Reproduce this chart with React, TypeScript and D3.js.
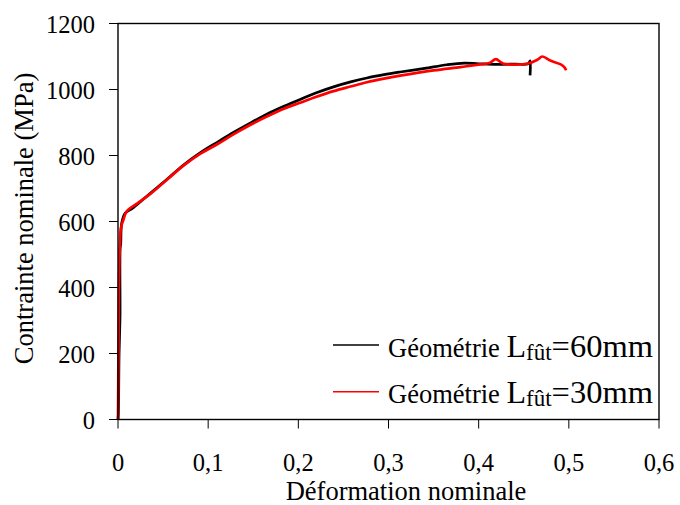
import React from "react";
import * as d3 from "d3";

// Tensile curves: nominal strain vs nominal stress (MPa)
const strain60 = [0, 0.0004, 0.0012, 0.0022, 0.0023, 0.0024, 0.003, 0.0041, 0.0078, 0.017, 0.0355, 0.054, 0.073, 0.091, 0.11, 0.128, 0.147, 0.165, 0.184, 0.202, 0.22, 0.239, 0.258, 0.276, 0.295, 0.313, 0.34, 0.365, 0.384, 0.4, 0.42, 0.44, 0.455, 0.457, 0.457];
const stress60 = [0, 15, 200, 305, 340, 520, 532, 595, 625, 642, 685, 727, 772, 808, 840, 870, 899, 925, 949, 970, 990, 1008, 1023, 1035, 1045, 1053, 1064, 1075, 1080, 1078, 1076, 1077, 1078, 1087, 1043];

const strain30 = [0, 0.0005, 0.001, 0.0015, 0.002, 0.003, 0.0041, 0.006, 0.0095, 0.0215, 0.0355, 0.054, 0.073, 0.091, 0.11, 0.128, 0.147, 0.165, 0.184, 0.202, 0.22, 0.239, 0.258, 0.276, 0.295, 0.313, 0.35, 0.38, 0.402, 0.412, 0.419, 0.425, 0.428, 0.454, 0.465, 0.4707, 0.48, 0.491, 0.495, 0.497];
const stress30 = [0, 200, 400, 480, 515, 575, 590, 605, 630, 655, 683, 726, 770, 805, 834, 864, 893, 918, 942, 960, 978, 995, 1009, 1022, 1033, 1042, 1058, 1068, 1076, 1080, 1092, 1082, 1078, 1078, 1090, 1100, 1087, 1076, 1068, 1058];

const xTicks = [0, 0.1, 0.2, 0.3, 0.4, 0.5, 0.6];
const xTickLabels = ["0", "0,1", "0,2", "0,3", "0,4", "0,5", "0,6"];
const yTicks = [0, 200, 400, 600, 800, 1000, 1200];

const seriesNames = ["=60mm", "=30mm"];
const seriesColors = ["#000000", "#ff0000"];

const W = 680;
const H = 505;
const left = 118;
const right = 659;
const top = 23.5;
const bottom = 419.5;
const font = "'Liberation Serif', 'Times New Roman', serif";

export default function App() {
  const x = d3.scaleLinear().domain([0, 0.6]).range([left, right]);
  const y = d3.scaleLinear().domain([0, 1200]).range([bottom, top]);
  const line = d3
    .line<[number, number]>()
    .x((d) => x(d[0]))
    .y((d) => y(d[1]))
    .curve(d3.curveCatmullRom.alpha(0.5));

  const data60 = strain60.map((s, i) => [s, stress60[i]] as [number, number]);
  const data30 = strain30.map((s, i) => [s, stress30[i]] as [number, number]);
  const curves = [data60, data30];

  return (
    <svg
      width={W}
      height={H}
      style={{ position: "absolute", left: 0, top: 0, background: "#fff" }}
      fontFamily={font}
    >
      <rect x={0} y={0} width={W} height={H} fill="#fff" />

      {/* curves */}
      {curves.map((c, i) => (
        <path
          key={i}
          d={line(c) || ""}
          fill="none"
          stroke={seriesColors[i]}
          strokeWidth={2.7}
          strokeLinejoin="round"
        />
      ))}

      {/* frame */}
      <rect
        x={left}
        y={top}
        width={right - left}
        height={bottom - top}
        fill="none"
        stroke="#000"
        strokeWidth={1.4}
      />

      {/* y axis ticks */}
      {yTicks.map((t) => (
        <g key={t}>
          <line x1={left - 9} x2={left} y1={y(t)} y2={y(t)} stroke="#000" strokeWidth={1} />
          <text x={95} y={y(t) + 9} textAnchor="end" fontSize={24.5} fill="#000">
            {t}
          </text>
        </g>
      ))}

      {/* x axis ticks */}
      {xTicks.map((t, i) => (
        <g key={t}>
          <line x1={x(t)} x2={x(t)} y1={bottom} y2={bottom + 9} stroke="#000" strokeWidth={1} />
          <text x={x(t)} y={471} textAnchor="middle" fontSize={24.5} fill="#000">
            {xTickLabels[i]}
          </text>
        </g>
      ))}

      {/* axis titles */}
      <text x={406} y={500} textAnchor="middle" fontSize={26.5} fill="#000">
        Déformation nominale
      </text>
      <text
        transform={`translate(33,${218.5}) rotate(-90)`}
        textAnchor="middle"
        fontSize={26.5}
        fill="#000"
      >
        Contrainte nominale (MPa)
      </text>

      {/* legend */}
      {seriesNames.map((name, i) => {
        const ly = 345 + i * 46.7;
        return (
          <g key={name}>
            <line x1={333} x2={379} y1={ly} y2={ly} stroke={seriesColors[i]} strokeWidth={1.6} />
            <text x={388} y={ly + 11.5} fill="#000">
              <tspan fontSize={26.5}>Géométrie </tspan>
              <tspan fontSize={32}>L</tspan>
              <tspan fontSize={23} dy={3}>fût</tspan>
              <tspan fontSize={32.5} dy={-3}>{name}</tspan>
            </text>
          </g>
        );
      })}
    </svg>
  );
}
